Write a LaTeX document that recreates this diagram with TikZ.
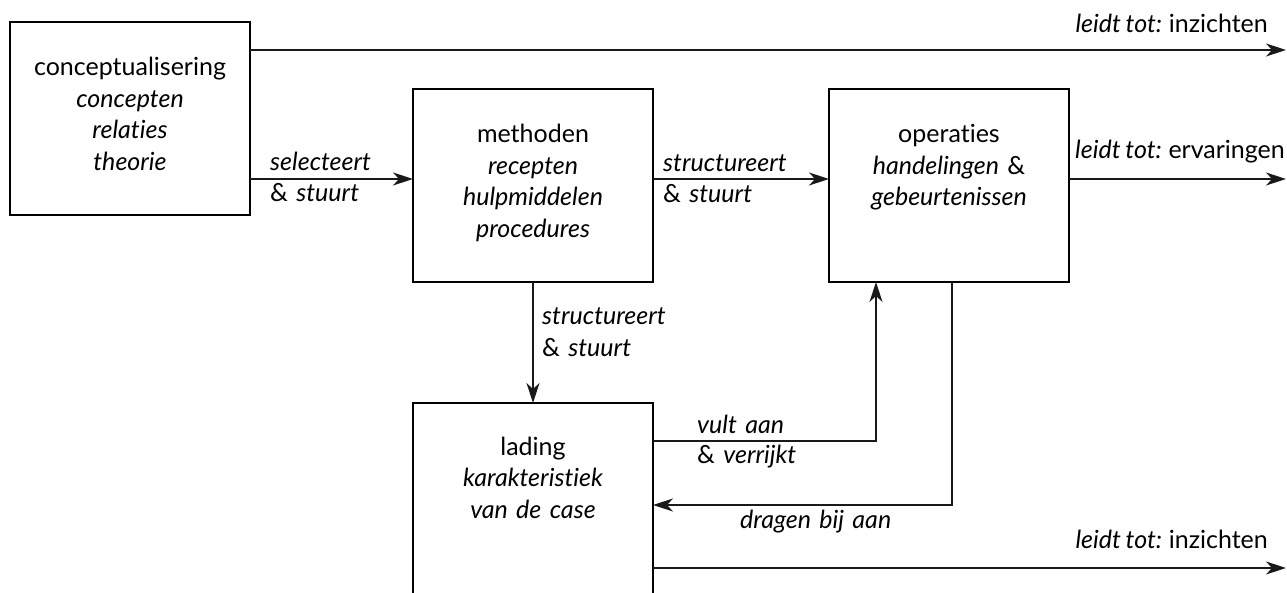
\documentclass[tikz,border=0pt]{standalone}
\usepackage{fontspec}
\setmainfont{Lato}[Ligatures=NoCommon]
\usetikzlibrary{arrows.meta}
% tighter word spacing for the labels
\newcommand{\tightsp}{\spaceskip=0.19em plus 0.05em\relax}
\begin{document}
\begin{tikzpicture}[x=1pt,y=-1pt,
  box/.style={draw, line width=2.6pt, minimum width=240pt, minimum height=193pt,
    inner sep=0pt, outer sep=0pt, anchor=north west},
  boxtext/.style={anchor=base, align=center, text width=236pt, inner sep=0pt,
    font=\fontsize{25}{31.5}\selectfont\tightsp},
  lbl/.style={anchor=base west, align=left, text width=220pt, inner sep=0pt,
    font=\fontsize{25}{31}\selectfont\itshape\tightsp},
  outlbl/.style={inner sep=0pt, font=\fontsize{25}{31}\selectfont\tightsp},
  link/.style={line width=1.4pt, draw=black!90, -{Stealth[length=20pt,width=13pt,inset=6pt]}}]
\useasboundingbox (0,0) rectangle (1287,593);
\clip (0,0) rectangle (1287,593);

% the four boxes
\node[box] (c) at (10,22) {};
\node[box] (m) at (413,89) {};
\node[box] (o) at (829,89) {};
\node[box, minimum height=240pt] (l) at (413,403) {};

% box contents
\node[boxtext] (ct) at (130,76) {conceptualisering\\\itshape concepten\\\itshape relaties\\\itshape theorie};
\node[boxtext] (mt) at (533,143) {methoden\\\itshape recepten\\\itshape hulpmiddelen\\\itshape procedures};
\node[boxtext] (ot) at (949,143) {operaties\\{\itshape handelingen} \&\\\itshape gebeurtenissen};
\node[boxtext] (lt) at (533,455) {lading\\\itshape karakteristiek\\\itshape van de case};

% helper coordinates for the routed connectors
\coordinate (row) at (0,179);
\coordinate (out1) at (1286,50);
\coordinate (out2) at (1286,179);
\coordinate (out3) at (1286,568);
\coordinate (v) at (876,441);
\coordinate (d) at (952,505);

% connectors
\draw[link] (c.east |- out1) -- (out1);
\draw[link] (c.east |- row) -- (m.west |- row);
\draw[link] (m.east |- row) -- (o.west |- row);
\draw[link] (o.east |- out2) -- (out2);
\draw[link] (m.south) -- (l.north);
\draw[link] (l.east |- v) -| (o.south -| v);
\draw[link] (o.south -| d) |- (l.east |- d);
\draw[link] (l.east |- out3) -- (out3);

% connector labels
\node[lbl] (sel) at (270,171) {selecteert\\{\upshape\&} stuurt};
\node[lbl] (str1) at (663,172) {structureert\\{\upshape\&} stuurt};
\node[lbl, font=\fontsize{25}{32}\selectfont\itshape\tightsp] (str2) at (542,325) {structureert\\{\upshape\&} stuurt};
\node[lbl, font=\fontsize{25}{30}\selectfont\itshape\tightsp] (vul) at (697,433) {vult aan\\{\upshape\&} verrijkt};
\node[lbl] (dra) at (740,528) {dragen bij aan};
\node[outlbl, anchor=base east] (ins1) at (1268,33) {\itshape leidt tot: \upshape inzichten};
\node[outlbl, anchor=base west] (erv) at (1075,159) {\itshape leidt tot: \upshape ervaringen};
\node[outlbl, anchor=base east] (ins2) at (1268,548) {\itshape leidt tot: \upshape inzichten};
\end{tikzpicture}
\end{document}
